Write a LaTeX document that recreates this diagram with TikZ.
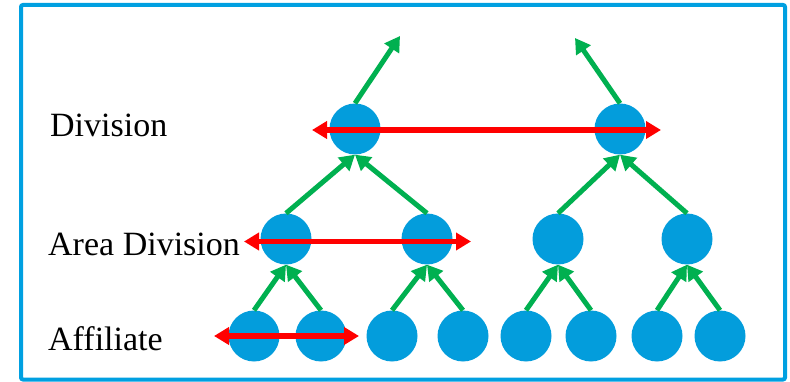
\documentclass[tikz,border=0pt]{standalone}
\usepackage{fontspec}
\setmainfont{Liberation Serif}
\usetikzlibrary{arrows.meta}
\definecolor{nodeblue}{RGB}{3,157,220}
\definecolor{framblue}{RGB}{0,160,225}
\definecolor{arrgreen}{RGB}{0,176,80}
\tikzset{
  unit/.style={circle,fill=nodeblue,minimum size=51pt,inner sep=0pt},
  uparrow/.style={draw=arrgreen,line width=5pt,-{Triangle[length=15pt 0,width=17pt 0]}},
  peer/.style={draw=red,line width=5.5pt,{Triangle[length=15pt 0,width=17pt 0]}-{Triangle[length=15pt 0,width=17pt 0]}},
  lvl/.style={anchor=base west,font=\fontsize{34}{37}\selectfont,inner sep=0pt}
}
\begin{document}
\begin{tikzpicture}[x=1pt,y=-1pt]
\useasboundingbox (0,0) rectangle (790,382);
\draw[framblue,line width=4pt,rounded corners=2pt] (21,5) rectangle (785,379.5);
% labels
\node[lvl] (ldiv) at (50,137) {Division};
\node[lvl] (larea) at (48,255) {Area Division};
\node[lvl] (laff) at (48,350) {Affiliate};
% divisions
\node[unit] (d1) at (355,129) {};
\node[unit] (d2) at (620,129) {};
% area divisions
\node[unit] (a1) at (286,239) {};
\node[unit] (a2) at (427,239) {};
\node[unit] (a3) at (558,239) {};
\node[unit] (a4) at (687,239) {};
% affiliates
\node[unit] (f1) at (254,336) {};
\node[unit] (f2) at (321,336) {};
\node[unit] (f3) at (392,336) {};
\node[unit] (f4) at (463,336) {};
\node[unit] (f5) at (526,336) {};
\node[unit] (f6) at (591,336) {};
\node[unit] (f7) at (657,336) {};
\node[unit] (f8) at (720,336) {};
% free ends
\coordinate (t1) at (400,36);
\coordinate (t2) at (575,38);
\coordinate (rd1) at (312,130);
\coordinate (rd2) at (661,130);
\coordinate (ra1) at (244,241.5);
\coordinate (ra2) at (471,241.5);
\coordinate (rf1) at (214,336);
\coordinate (rf2) at (359,336);
% green arrows
\draw[uparrow] (d1.north) -- (t1);
\draw[uparrow] (d2.north) -- (t2);
\draw[uparrow] (a1.north) -- (d1.south);
\draw[uparrow] (a2.north) -- (d1.south);
\draw[uparrow] (a3.north) -- (d2.south);
\draw[uparrow] (a4.north) -- (d2.south);
\draw[uparrow] (f1.north) -- (a1.south);
\draw[uparrow] (f2.north) -- (a1.south);
\draw[uparrow] (f3.north) -- (a2.south);
\draw[uparrow] (f4.north) -- (a2.south);
\draw[uparrow] (f5.north) -- (a3.south);
\draw[uparrow] (f6.north) -- (a3.south);
\draw[uparrow] (f7.north) -- (a4.south);
\draw[uparrow] (f8.north) -- (a4.south);
% red arrows
\draw[peer] (rd1) -- (rd2);
\draw[peer] (ra1) -- (ra2);
\draw[peer] (rf1) -- (rf2);
\end{tikzpicture}
\end{document}
